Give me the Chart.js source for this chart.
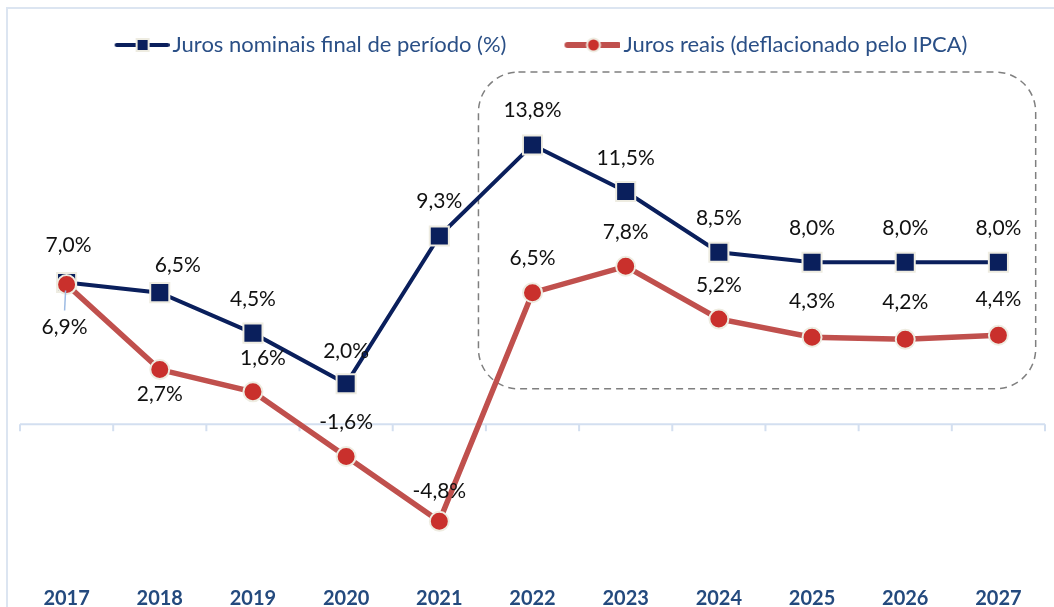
<!DOCTYPE html>
<html>
<head>
<meta charset="utf-8">
<script src="https://cdn.jsdelivr.net/npm/chart.js@4.4.1/dist/chart.umd.min.js"></script>
<style>
body { margin: 0; background: #fff; }
#wrap { position: relative; width: 1054px; height: 607px; overflow: hidden; }
#frame { position: absolute; left: 6px; top: 7px; width: 1200px; height: 800px;
         border-left: 2px solid #dce5f1; border-top: 2px solid #dce5f1; }
#chart { position: absolute; left: 0; top: 0; }
</style>
</head>
<body>
<div id="wrap"><div id="frame"></div><canvas id="chart" width="1054" height="607"></canvas></div>
<script>
// Juros nominais x juros reais

const years = ['2017','2018','2019','2020','2021','2022','2023','2024','2025','2026','2027'];
const juros_nominais = [7.0, 6.5, 4.5, 2.0, 9.3, 13.8, 11.5, 8.5, 8.0, 8.0, 8.0];
const juros_reais = [6.9, 2.7, 1.6, -1.6, -4.8, 6.5, 7.8, 5.2, 4.3, 4.2, 4.4];
const series_names = ['Juros nominais final de período (%)', 'Juros reais (deflacionado pelo IPCA)'];

// where each data label sits, relative to its point (dx, dy)
const nominal_label_pos = [[2,-37],[18,-27],[0,-34],[0,-33],[0,-35],[0,-35],[0,-33],[0,-34],[0,-34],[0,-34],[0,-34]];
const real_label_pos = [[-2,43],[0,25],[10,-34],[0,-34],[0,-30],[0,-34],[0,-34],[0,-34],[0,-36],[0,-37],[0,-36]];

// dashed rounded box around the projections (category index / value units)
const box = {from: 4.42, to: 10.4, top: 17.4, bottom: 1.75, radius: 40};

const navy = '#0a1f5c';
const red = '#c0504d';
const redFill = '#c9302c';
const beige = '#eeece1';

function legendIcon(color, lineW, marker){
    // 80 px wide, drawn centred over a 64 px legend box: the line ends right before the text
    var c = document.createElement('canvas');
    c.width = 80; c.height = 24;
    var g = c.getContext('2d');
    g.strokeStyle = color;
    g.lineWidth = lineW;
    g.lineCap = 'round';
    g.beginPath(); g.moveTo(27, 12); g.lineTo(78, 12); g.stroke();
    g.lineWidth = 2;
    g.strokeStyle = beige;
    if (marker == 'rect'){
        g.fillStyle = navy;
        g.fillRect(47, 6, 12, 12);
        g.strokeRect(47, 6, 12, 12);
    } else {
        g.fillStyle = redFill;
        g.beginPath(); g.arc(53, 12, 6.5, 0, Math.PI*2); g.fill(); g.stroke();
    }
    return c;
}
const legend_icons = [legendIcon(navy, 4, 'rect'), legendIcon(red, 6, 'circle')];

function fmt(v){
    return v.toFixed(1).replace('.', ',') + '%';
}

const decor = {
    id: 'decor',
    beforeDatasetsDraw(chart){
        const {ctx, chartArea, scales: {x, y}} = chart;
        const y0 = y.getPixelForValue(0);
        ctx.save();
        // zero line with tick marks between categories
        ctx.strokeStyle = '#d3dff0';
        ctx.lineWidth = 2;
        ctx.beginPath(); ctx.moveTo(chartArea.left, y0); ctx.lineTo(chartArea.right, y0); ctx.stroke();
        const step = x.getPixelForValue(1) - x.getPixelForValue(0);
        for (let i = 0; i <= years.length; i++){
            const px = x.getPixelForValue(i) - step/2;
            ctx.beginPath(); ctx.moveTo(px, y0); ctx.lineTo(px, y0 + 7); ctx.stroke();
        }
        // dashed box
        const bx1 = x.getPixelForValue(box.from), bx2 = x.getPixelForValue(box.to);
        const by1 = y.getPixelForValue(box.top), by2 = y.getPixelForValue(box.bottom);
        ctx.setLineDash([7, 5]);
        ctx.strokeStyle = '#7f7f7f';
        ctx.lineWidth = 1.5;
        ctx.beginPath(); ctx.roundRect(bx1, by1, bx2 - bx1, by2 - by1, box.radius); ctx.stroke();
        ctx.restore();
    },
    afterDatasetsDraw(chart){
        const ctx = chart.ctx;
        const positions = [nominal_label_pos, real_label_pos];
        ctx.save();
        ctx.font = '21px Lato';
        ctx.fillStyle = '#111';
        ctx.textAlign = 'center';
        ctx.textBaseline = 'middle';
        chart.data.datasets.forEach((ds, di) => {
            const meta = chart.getDatasetMeta(di);
            meta.data.forEach((pt, i) => {
                const [dx, dy] = positions[di][i];
                const lx = pt.x + dx, ly = pt.y + dy;
                if (dy > 40){
                    // leader line
                    ctx.strokeStyle = '#9dbbe3';
                    ctx.lineWidth = 1.5;
                    ctx.beginPath(); ctx.moveTo(pt.x - 1, pt.y + 6); ctx.lineTo(lx, ly - 17); ctx.stroke();
                }
                ctx.fillText(fmt(ds.data[i]), lx, ly);
            });
        });
        ctx.restore();
    }
};

const ctx = document.getElementById('chart');
const mychart = new Chart(ctx, {
    type: 'line',
    data: {
        labels: years,
        datasets: [{
            label: series_names[0],
            data: juros_nominais,
            borderColor: navy,
            borderWidth: 4,
            pointStyle: 'rect',
            pointRadius: 13.5,
            pointBackgroundColor: navy,
            pointBorderColor: beige,
            pointBorderWidth: 2,
            order: 1
        },
        {
            label: series_names[1],
            data: juros_reais,
            borderColor: red,
            borderWidth: 5.5,
            pointStyle: 'circle',
            pointRadius: 9.5,
            pointBackgroundColor: redFill,
            pointBorderColor: beige,
            pointBorderWidth: 2,
            order: 0
        }]
    },
    options: {
        responsive: false,
        animation: false,
        layout: {autoPadding: false, padding: {left: 20, right: 9, top: -8, bottom: -7}},
        plugins: {
            tooltip: {enabled: false},
            legend: {
                position: 'top',
                labels: {
                    usePointStyle: true,
                    pointStyleWidth: 64,
                    padding: 42,
                    color: '#2a4f86',
                    font: {family: 'Lato', size: 22},
                    sort: (a, b) => a.datasetIndex - b.datasetIndex,
                    generateLabels: chart => {
                        const items = Chart.defaults.plugins.legend.labels.generateLabels(chart);
                        items.forEach(it => { it.pointStyle = legend_icons[it.datasetIndex]; });
                        return items;
                    }
                }
            }
        },
        scales: {
            x: {
                offset: true,
                grid: {display: false},
                border: {display: false},
                ticks: {color: '#244a7e', font: {family: 'Lato', size: 20, weight: 'bold'}, padding: 3}
            },
            y: {
                display: false,
                min: -7.5,
                max: 17.7
            }
        }
    },
    plugins: [decor]
});
</script>
</body>
</html>
